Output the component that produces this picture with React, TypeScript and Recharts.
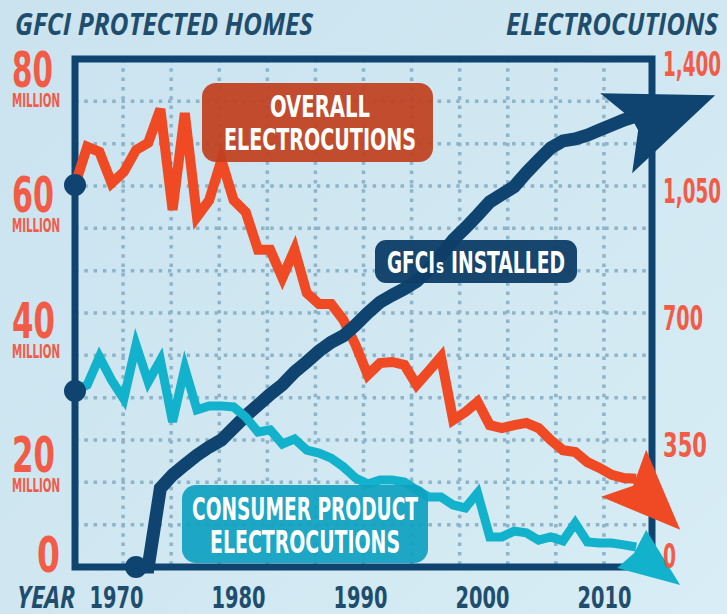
import { LineChart, Line, XAxis, YAxis, CartesianGrid, ReferenceArea } from "recharts";

const years = [
  1967, 1968, 1969, 1970, 1971, 1972, 1973, 1974, 1975, 1976, 1977, 1978, 1979, 1980, 1981, 1982,
  1983, 1984, 1985, 1986, 1987, 1988, 1989, 1990, 1991, 1992, 1993, 1994, 1995, 1996, 1997, 1998,
  1999, 2000, 2001, 2002, 2003, 2004, 2005, 2006, 2007, 2008, 2009, 2010, 2011, 2012, 2013,
];

// electrocutions per year (right axis)
const overallElectrocutions = [
  1053, 1158, 1144, 1058, 1089, 1149, 1169, 1262, 984, 1251, 965, 1011, 1122, 1011, 978, 874,
  874, 797, 874, 755, 725, 725, 681, 612, 529, 562, 565, 557, 502, 540, 579, 405,
  427, 455, 391, 383, 391, 397, 383, 350, 322, 317, 289, 273, 254, 245, 243,
];

const consumerProductElectrocutions = [
  485, 502, 579, 515, 463, 612, 510, 570, 400, 548, 433, 444, 444, 441, 413, 372,
  378, 339, 353, 322, 314, 300, 276, 245, 229, 240, 240, 234, 212, 193, 193, 171,
  163, 204, 83, 83, 99, 94, 74, 83, 72, 121, 69, 66, 66, 61, 55,
];

// million homes protected by GFCIs (left axis)
const gfciProtectedHomes = [
  null, null, null, null, null, 0, 0, 12.4, 14.5, 16.1, 17.6, 18.9, 20.0, 21.9, 23.8, 25.5,
  27.2, 28.7, 30.7, 32.3, 34.0, 35.4, 36.4, 38.1, 40.0, 41.7, 42.8, 43.8, 45.0, 46.8, 49.1, 51.5,
  53.4, 55.4, 57.5, 58.7, 59.9, 62.1, 64.1, 66.0, 67.1, 67.4, 68.0, 68.8, 69.6, 70.4, 71.0,
];

const yearTicks = [1970, 1980, 1990, 2000, 2010];
const homesTicks = [0, 20, 40, 60, 80];
const electrocutionTicks = [0, 350, 700, 1050, 1400];

const NAVY = "#0f4470";
const ORANGE = "#ef4a23";
const TEAL = "#12b2cc";
const LABEL_RED = "#f25c47";
const INK = "#1f4d6d";
const COND = "'Liberation Sans Narrow', 'DejaVu Sans Condensed', 'DejaVu Sans', sans-serif";
const TITLE = "'Open Sans', 'DejaVu Sans', sans-serif";

const rows = years.map((year, i) => ({
  year,
  overall: overallElectrocutions[i],
  consumer: consumerProductElectrocutions[i],
  gfci: gfciProtectedHomes[i],
}));

const lastIndex = years.length - 1;
const gfciFirst = gfciProtectedHomes.findIndex((v) => v !== null);

// label placement per tick: [x, baseline offset, text width]
const homesLabelPos: Record<number, number[]> = {
  80: [12, 28, 41],
  60: [12, 26, 42],
  40: [12, 25, 43],
  20: [12, 32, 43],
  0: [37, 5, 23],
};
const elecLabelWidth: Record<number, number> = { 1400: 58, 1050: 58, 700: 40, 350: 44, 0: 13 };

const HomesTick = ({ y, payload }: any) => {
  const v = payload.value;
  const [x0, dy, w] = homesLabelPos[v];
  const base = y + dy;
  return (
    <g>
      <text x={x0} y={base} fill={LABEL_RED} fontFamily={COND} fontWeight={700} fontSize={50}
        textLength={w} lengthAdjust="spacingAndGlyphs">{v}</text>
      {v !== 0 && (
        <text x={12} y={base + 20} fill={LABEL_RED} fontFamily={COND} fontWeight={700} fontSize={19}
          textLength={48} lengthAdjust="spacingAndGlyphs">MILLION</text>
      )}
    </g>
  );
};

const ElecTick = ({ y, payload }: any) => {
  const v = payload.value;
  return (
    <text x={663} y={y + (v === 0 ? 1 : 17)} fill={LABEL_RED} fontFamily={COND} fontWeight={700}
      fontSize={34} textLength={elecLabelWidth[v]} lengthAdjust="spacingAndGlyphs">
      {v.toLocaleString("en-US")}
    </text>
  );
};

const YearTick = ({ x, payload }: any) => (
  <text x={x + 5} y={608} textAnchor="middle" fill={INK} fontFamily={COND} fontWeight={700}
    fontSize={31} textLength={54} lengthAdjust="spacingAndGlyphs">{payload.value}</text>
);

const arrowShapes: Record<string, number[][]> = {
  overall: [[10, -29], [44, 51], [-35, 18], [-3, 7]],
  consumer: [[10, -17], [44, 38], [-19, 21], [-2, 6]],
  gfci: [[-36, -23], [79, -21], [-4, 57], [2, 14], [-4, 3]],
};

const makeDot = (key: string, color: string, first: number) => (props: any) => {
  const { cx, cy, index } = props;
  if (cx == null || cy == null) return <g key={`${key}-${index}`} />;
  if (index === first) {
    return <circle key={`${key}-${index}`} cx={cx} cy={cy} r={11} fill={NAVY} />;
  }
  if (index === lastIndex) {
    const pts = arrowShapes[key].map(([dx, dy]) => `${cx + dx},${cy + dy}`).join(" ");
    return <polygon key={`${key}-${index}`} points={pts} fill={color} />;
  }
  return <g key={`${key}-${index}`} />;
};

const evenSplit = (start: number, size: number) =>
  Array.from({ length: 11 }, (_, i) => start + ((i + 1) * size) / 12);

export default function App() {
  return (
    <div
      style={{
        position: "absolute",
        left: 0,
        top: 0,
        width: 727,
        height: 614,
        overflow: "hidden",
        background: "linear-gradient(135deg, #cae3ef 0%, #d1e8f2 55%, #d8edf5 100%)",
      }}
    >
      <LineChart width={727} height={614} data={rows} margin={{ top: 59, right: 0, bottom: 0, left: 0 }}>
        <CartesianGrid
          yAxisId="left"
          stroke="#8db4c8"
          strokeWidth={3.5}
          strokeDasharray="3.5 5.8"
          horizontalCoordinatesGenerator={({ offset }: any) => evenSplit(offset.top, offset.height)}
          verticalCoordinatesGenerator={({ offset }: any) => evenSplit(offset.left, offset.width)}
        />
        <XAxis
          dataKey="year"
          type="number"
          domain={[1967, 2014.3]}
          ticks={yearTicks}
          height={47}
          axisLine={false}
          tickLine={false}
          tick={<YearTick />}
        />
        <YAxis yAxisId="left" domain={[0, 80]} ticks={homesTicks} width={75}
          axisLine={false} tickLine={false} tick={<HomesTick />} />
        <YAxis yAxisId="right" orientation="right" domain={[0, 1400]} ticks={electrocutionTicks}
          width={75} axisLine={false} tickLine={false} tick={<ElecTick />} />
        <ReferenceArea yAxisId="left" x1={1967} x2={2014.3} y1={0} y2={80}
          fill="none" stroke={NAVY} strokeWidth={7} />
        <Line yAxisId="right" dataKey="overall" stroke={ORANGE} strokeWidth={10} strokeLinejoin="miter"
          dot={makeDot("overall", ORANGE, 0)} activeDot={false} isAnimationActive={false} />
        <Line yAxisId="left" dataKey="gfci" stroke={NAVY} strokeWidth={13} strokeLinejoin="miter"
          dot={makeDot("gfci", NAVY, gfciFirst)} activeDot={false} isAnimationActive={false} />
        <Line yAxisId="right" dataKey="consumer" stroke={TEAL} strokeWidth={9} strokeLinejoin="miter"
          dot={makeDot("consumer", TEAL, 0)} activeDot={false} isAnimationActive={false} />
      </LineChart>
      <svg width={727} height={614} style={{ position: "absolute", left: 0, top: 0, pointerEvents: "none" }}>
        <text x={15} y={35} fill={INK} fontFamily={TITLE} fontStyle="italic" fontWeight={700} fontSize={31}
          textLength={298} lengthAdjust="spacingAndGlyphs">GFCI PROTECTED HOMES</text>
        <text x={506} y={35} fill={INK} fontFamily={TITLE} fontStyle="italic" fontWeight={700} fontSize={31}
          textLength={212} lengthAdjust="spacingAndGlyphs">ELECTROCUTIONS</text>
        <text x={17} y={608} fill={INK} fontFamily={TITLE} fontStyle="italic" fontWeight={700} fontSize={31}
          textLength={58} lengthAdjust="spacingAndGlyphs">YEAR</text>

        <rect x={202} y={83} width={231} height={79} rx={14} fill="#c13f1f" opacity={0.93} />
        <text x={320} y={117} textAnchor="middle" fill="#fff" fontFamily={COND} fontWeight={700} fontSize={30}
          textLength={100} lengthAdjust="spacingAndGlyphs">OVERALL</text>
        <text x={320} y={150} textAnchor="middle" fill="#fff" fontFamily={COND} fontWeight={700} fontSize={30}
          textLength={192} lengthAdjust="spacingAndGlyphs">ELECTROCUTIONS</text>

        <rect x={375} y={240} width={202} height={43} rx={11} fill="#0f3e68" opacity={0.96} />
        <text y={273} fill="#fff" fontFamily={COND} fontWeight={700} fontSize={31}>
          <tspan x={387} textLength={48} lengthAdjust="spacingAndGlyphs">GFCI</tspan>
          <tspan x={436} fontSize={20} textLength={8} lengthAdjust="spacingAndGlyphs">s</tspan>
          <tspan x={451} textLength={114} lengthAdjust="spacingAndGlyphs">INSTALLED</tspan>
        </text>

        <rect x={182} y={485} width={246} height={78} rx={14} fill="#0fa1c1" opacity={0.93} />
        <text x={305} y={520} textAnchor="middle" fill="#fff" fontFamily={COND} fontWeight={700} fontSize={32}
          textLength={226} lengthAdjust="spacingAndGlyphs">CONSUMER PRODUCT</text>
        <text x={305} y={553} textAnchor="middle" fill="#fff" fontFamily={COND} fontWeight={700} fontSize={32}
          textLength={190} lengthAdjust="spacingAndGlyphs">ELECTROCUTIONS</text>
      </svg>
    </div>
  );
}
